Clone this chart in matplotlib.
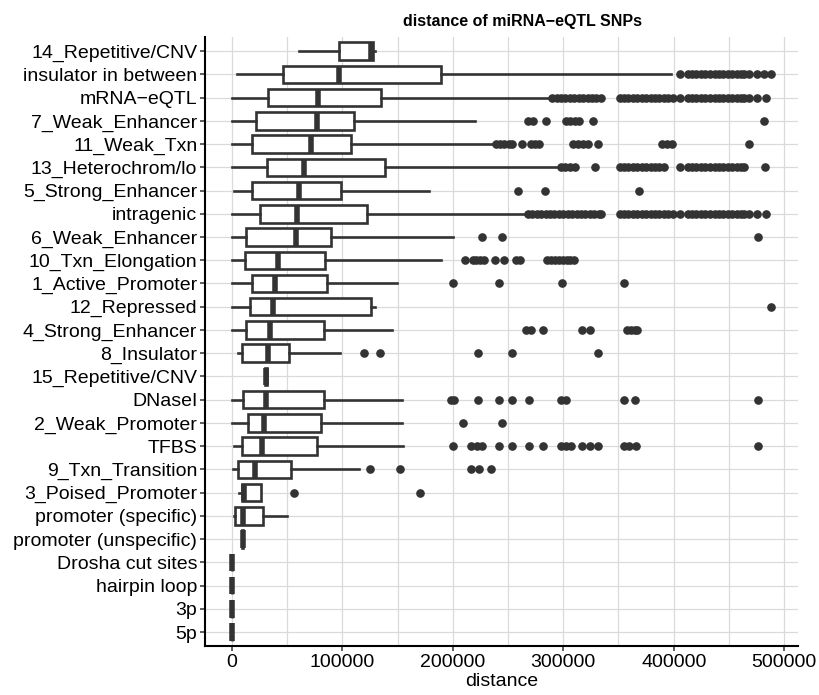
import numpy as np
import matplotlib.pyplot as plt
from matplotlib.ticker import MultipleLocator

plt.rcParams['font.family'] = ['Liberation Sans', 'DejaVu Sans']

# categories, top to bottom
categories = [
    '14_Repetitive/CNV', 'insulator in between', 'mRNA\u2212eQTL', '7_Weak_Enhancer',
    '11_Weak_Txn', '13_Heterochrom/lo', '5_Strong_Enhancer', 'intragenic',
    '6_Weak_Enhancer', '10_Txn_Elongation', '1_Active_Promoter', '12_Repressed',
    '4_Strong_Enhancer', '8_Insulator', '15_Repetitive/CNV', 'DNaseI',
    '2_Weak_Promoter', 'TFBS', '9_Txn_Transition', '3_Poised_Promoter',
    'promoter (specific)', 'promoter (unspecific)', 'Drosha cut sites',
    'hairpin loop', '3p', '5p',
]

# box statistics (distance)
whislo = [60300, 4200, 0, 0, 0, 0, 1500, 0, 0, 0, 0, 0, 0, 5100, 30000, 0,
          0, 1500, 500, 6000, 1500, 8800, 0, 0, 0, 0]
q1 = [97100, 45800, 32200, 21700, 18100, 31700, 17800, 25600, 12700, 11800,
      18100, 16300, 12700, 9100, 30200, 9600, 14800, 8700, 5100, 8700, 3000,
      9100, 0, 0, 0, 0]
median = [125500, 96500, 77500, 76600, 71500, 64800, 61000, 58800, 57900, 41300,
          39200, 37400, 34400, 32200, 30800, 30800, 28600, 26800, 21100, 11100,
          9600, 9600, 100, 100, 100, 100]
q3 = [127300, 189200, 134900, 110700, 107700, 138500, 98700, 121900, 89600, 84500,
      86000, 125900, 82900, 51900, 31400, 83600, 80600, 76600, 53400, 26500,
      27700, 10200, 300, 300, 300, 300]
whishi = [129500, 397500, 288800, 220300, 237500, 296300, 178000, 266200, 199700,
          189200, 149400, 129500, 144900, 97800, 31600, 153600, 153600, 155100,
          115300, 26500, 49400, 10400, 400, 400, 400, 400]

# outliers per category
out_rep14 = []
out_insulator_between = [405900, 412500, 416500, 420500, 424500, 428500, 432500,
                         437000, 441000, 445000, 449000, 453000, 457000, 461000,
                         464000, 468400, 475500, 481500, 488000]
out_mrna = [290000, 294000, 298000, 302000, 306000, 310000, 314000, 318000, 322000,
            326000, 330000, 334000, 351000, 355000, 359000, 363000, 367000, 371000,
            375000, 379000, 383000, 387000, 391000, 395000, 399000, 405900, 412500,
            416500, 420500, 424500, 428500, 432500, 437000, 441000, 445000, 449000,
            453000, 457000, 461000, 464000, 468400, 475500, 483500]
out_weak_enh7 = [268500, 272500, 284300, 302400, 306000, 310500, 314500, 326500, 481500]
out_weak_txn = [239500, 243000, 246500, 250500, 254000, 262600, 270700, 274500,
                278200, 309000, 313000, 317500, 322000, 331700, 389300, 393500,
                398500, 468400]
out_hetero = [298000, 302000, 306000, 310500, 329000, 351000, 355000, 359000, 363000,
              367000, 371000, 375000, 379000, 383000, 387000, 391000, 405900, 412500,
              416500, 420500, 424500, 428500, 432500, 437000, 441000, 445000, 449000,
              453000, 457000, 461000, 464000, 482500]
out_strong_enh5 = [258600, 283700, 368800]
out_intragenic = [268000, 272000, 276000, 280000, 284000, 288000, 292000, 296000,
                  300000, 304000, 308000, 312000, 316000, 320000, 324000, 328000,
                  332000, 334000, 351000, 355000, 359000, 363000, 367000, 371000,
                  375000, 379000, 383000, 387000, 391000, 395000, 399000, 405900,
                  412500, 416500, 420500, 424500, 428500, 432500, 437000, 441000,
                  445000, 449000, 453000, 457000, 461000, 464000, 468400, 475500,
                  483500]
out_weak_enh6 = [226300, 244100, 475900]
out_txn_elong = [211000, 218000, 221000, 224500, 228000, 238400, 246500, 257100,
                 261000, 285700, 289000, 292500, 296000, 299500, 303000, 306500, 310000]
out_active_prom = [200600, 242000, 298800, 355200]
out_repressed = [488000]
out_strong_enh4 = [266000, 270500, 281200, 316500, 324100, 357500, 361000, 364500, 367000]
out_insulator8 = [119800, 134300, 222400, 253200, 331000]
out_rep15 = []
out_dnase = [198500, 201000, 222400, 242000, 253200, 268600, 298000, 302500, 355200,
             365200, 475900]
out_weak_prom = [208800, 244400]
out_tfbs = [200400, 216000, 221500, 226500, 242000, 253500, 268600, 281200, 297900,
            302400, 306900, 316500, 324100, 331700, 355200, 359700, 365800, 475900]
out_txn_trans = [125200, 152100, 216400, 223300, 234500]
out_poised = [56400, 170500]
out_prom_spec = []
out_prom_unspec = []
out_drosha = []
out_hairpin = []
out_3p = []
out_5p = []

outliers = [out_rep14, out_insulator_between, out_mrna, out_weak_enh7, out_weak_txn,
            out_hetero, out_strong_enh5, out_intragenic, out_weak_enh6, out_txn_elong,
            out_active_prom, out_repressed, out_strong_enh4, out_insulator8, out_rep15,
            out_dnase, out_weak_prom, out_tfbs, out_txn_trans, out_poised,
            out_prom_spec, out_prom_unspec, out_drosha, out_hairpin, out_3p, out_5p]

xticks = [0, 100000, 200000, 300000, 400000, 500000]

stats = []
for i in range(len(categories)):
    stats.append(dict(med=median[i], q1=q1[i], q3=q3[i], whislo=whislo[i],
                      whishi=whishi[i], fliers=outliers[i]))

dark = '#333333'
fig = plt.figure(figsize=(8.2, 6.95), dpi=100)
ax = fig.add_axes([0.25, 0.0705, 0.723, 0.876])

n = len(categories)
pos = np.arange(n, 0, -1)

ax.bxp(stats, positions=pos, widths=0.75, orientation='horizontal',
       showcaps=False, patch_artist=True,
       boxprops=dict(facecolor='white', edgecolor=dark, linewidth=1.9),
       whiskerprops=dict(color=dark, linewidth=1.9),
       medianprops=dict(color=dark, linewidth=4.0, solid_capstyle='butt'),
       flierprops=dict(marker='o', markerfacecolor=dark, markeredgecolor=dark,
                       markersize=5.2, linestyle='none'))

ax.set_xlim(-24400, 512400)
ax.set_ylim(0.4, n + 0.6)
ax.set_yticks(pos)
ax.set_yticklabels(categories)
ax.set_xticks(xticks)
ax.set_xticklabels([str(v) for v in xticks])
ax.xaxis.set_minor_locator(MultipleLocator(50000))

ax.grid(True, which='major', color='#dadada', linewidth=0.9)
ax.grid(True, which='minor', axis='x', color='#dadada', linewidth=0.9)
ax.set_axisbelow(True)

for s in ['top', 'right']:
    ax.spines[s].set_visible(False)
for s in ['left', 'bottom']:
    ax.spines[s].set_linewidth(1.5)
    ax.spines[s].set_color('black')

ax.tick_params(axis='both', which='major', length=3.5, width=1.1, color=dark,
               labelsize=14, labelcolor='black', pad=2)
ax.tick_params(axis='x', which='minor', length=0)

ax.set_xlabel('distance', fontsize=14, labelpad=2)
ax.set_title('distance of miRNA\u2212eQTL SNPs', fontsize=11.5, fontweight='bold',
             x=0.535, pad=8)

fig.savefig('out.png', dpi=100)
